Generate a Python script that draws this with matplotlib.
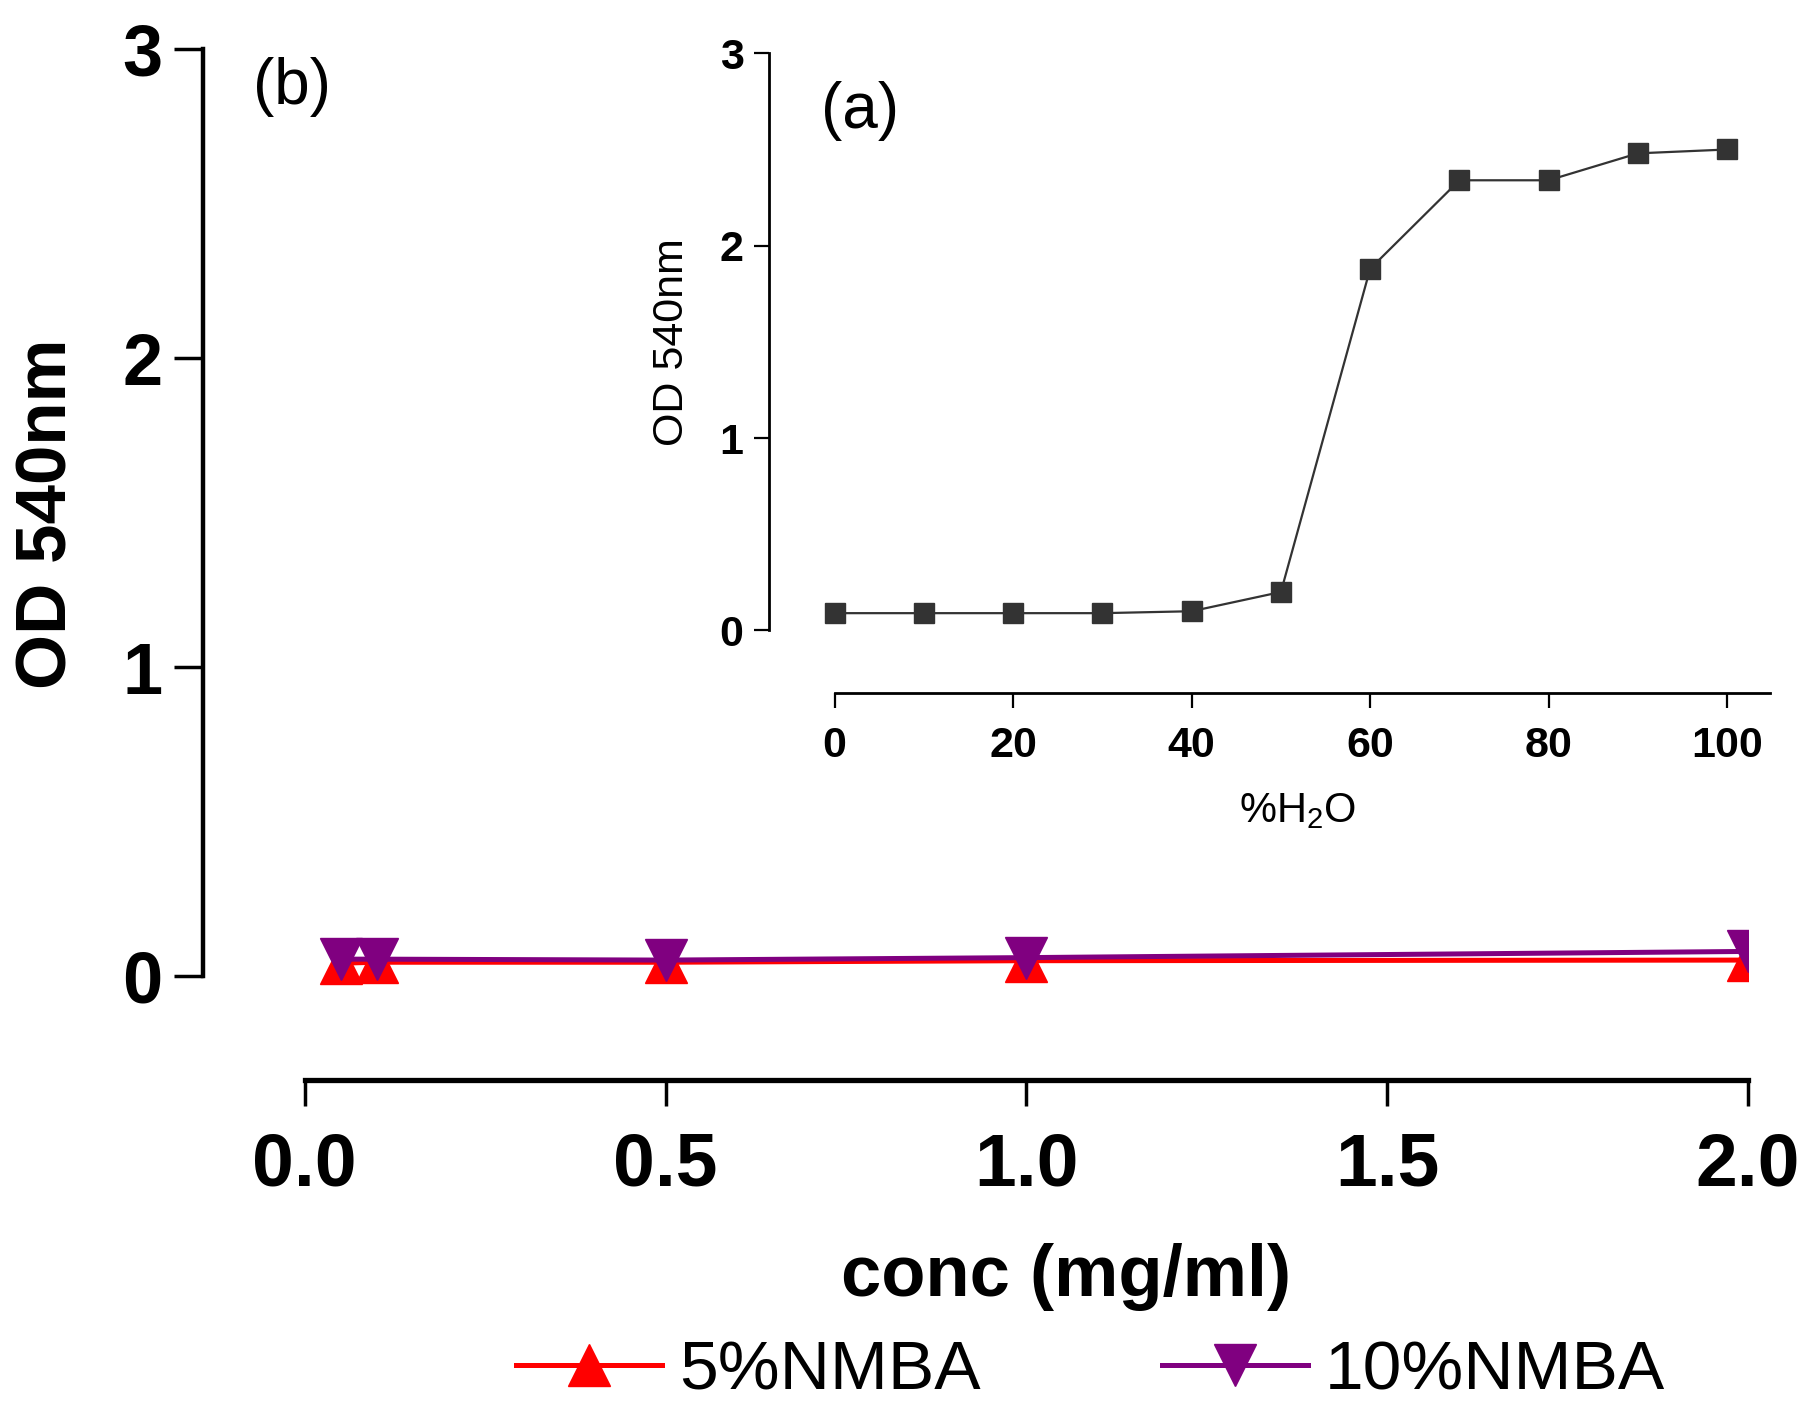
import matplotlib
matplotlib.use("Agg")
import matplotlib.pyplot as plt

plt.rcParams['font.family'] = ['Liberation Sans', 'DejaVu Sans']
plt.rcParams['mathtext.default'] = 'regular'

# ---- data ----
conc = [0.05, 0.1, 0.5, 1.0, 2.0]
nmba5 = [0.042, 0.045, 0.045, 0.05, 0.052]
nmba10 = [0.055, 0.055, 0.052, 0.06, 0.08]
series_labels = ['5%NMBA', '10%NMBA']

water = [0, 10, 20, 30, 40, 50, 60, 70, 80, 90, 100]
od_water = [0.09, 0.09, 0.09, 0.09, 0.10, 0.20, 1.88, 2.34, 2.34, 2.48, 2.50]

main_xticks = [0.0, 0.5, 1.0, 1.5, 2.0]
main_xticklabels = ['0.0', '0.5', '1.0', '1.5', '2.0']
main_yticks = [0, 1, 2, 3]
inset_xticks = [0, 20, 40, 60, 80, 100]
inset_yticks = [0, 1, 2, 3]

W, H = 1818, 1415
fig = plt.figure(figsize=(W / 100, H / 100), dpi=100)

# ---- main axes (b) ----
ax = fig.add_axes([203 / W, 1 - 1080 / H, (1748 - 203) / W, (1080 - 49) / H])
ax.set_facecolor('none')
ax.set_xlim(-0.141, 2.0)
ax.set_ylim(-0.336, 3.0)

l5, = ax.plot(conc, nmba5, color='#FF0000', lw=3.6, marker='^', ms=30,
              mec='#FF0000', mfc='#FF0000', label=series_labels[0], zorder=3)
l10, = ax.plot(conc, nmba10, color='#800080', lw=3.6, marker='v', ms=30,
               mec='#800080', mfc='#800080', label=series_labels[1], zorder=4)

for s in ['top', 'right']:
    ax.spines[s].set_visible(False)
ax.spines['left'].set_bounds(0, 3)
ax.spines['bottom'].set_bounds(0, 2)
ax.spines['left'].set_linewidth(3.2)
ax.spines['bottom'].set_linewidth(3.8)
ax.set_xticks(main_xticks)
ax.set_xticklabels(main_xticklabels)
ax.set_yticks(main_yticks)
ax.tick_params(axis='y', length=21, width=2.5, pad=8, labelsize=52)
ax.tick_params(axis='x', length=19, width=2.5, pad=18, labelsize=54)
for t in ax.get_xticklabels() + ax.get_yticklabels():
    t.set_fontweight('bold')

fig.text(0.0268, 0.637, 'OD 540nm', rotation=90, ha='center', va='center',
         fontsize=51, fontweight='bold')
fig.text(0.5866, 0.0975, 'conc (mg/ml)', ha='center', va='center',
         fontsize=52, fontweight='bold')
fig.text(0.1606, 0.9385, '(b)', ha='center', va='center', fontsize=46)

fig.legend(handles=[l5, l10], labels=series_labels, loc='center',
           bbox_to_anchor=(0.600, 0.031), ncol=2, frameon=False,
           fontsize=50, handlelength=2.1, handletextpad=0.25,
           columnspacing=2.6, borderpad=0, borderaxespad=0)

# ---- inset (a) ----
ai = fig.add_axes([768.6 / W, 1 - 693 / H, (1770 - 768.6) / W, (693 - 53.3) / H])
ai.set_facecolor('none')
ai.set_xlim(-7.4, 104.8)
ai.set_ylim(-0.325, 3.0)
ai.plot(water, od_water, color='#333333', lw=1.6, marker='s', ms=15,
        mfc='#333333', mec='#333333')
for s in ['top', 'right']:
    ai.spines[s].set_visible(False)
ai.spines['left'].set_bounds(0, 3)
ai.spines['bottom'].set_bounds(0, 104.8)
ai.spines['left'].set_linewidth(2.0)
ai.spines['bottom'].set_linewidth(2.0)
ai.set_xticks(inset_xticks)
ai.set_yticks(inset_yticks)
ai.tick_params(axis='y', length=11, width=1.6, pad=7, labelsize=31)
ai.tick_params(axis='x', length=11, width=1.6, pad=13, labelsize=31)
for t in ai.get_xticklabels() + ai.get_yticklabels():
    t.set_fontweight('bold')

fig.text(0.3698, 0.7583, 'OD 540nm', rotation=90, ha='center', va='center',
         fontsize=31)
fig.text(0.714, 0.4268, '%H$_2$O', ha='center', va='center', fontsize=30)
fig.text(0.4731, 0.9215, '(a)', ha='center', va='center', fontsize=46)

fig.savefig('out.png', dpi=100)
